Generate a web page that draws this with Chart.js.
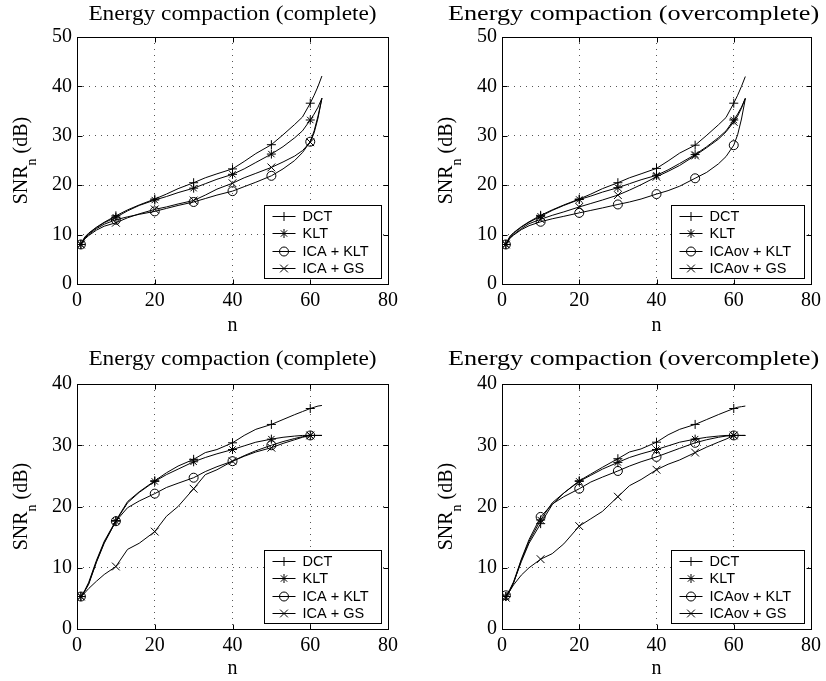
<!DOCTYPE html>
<html>
<head>
<meta charset="utf-8">
<script src="https://cdn.jsdelivr.net/npm/chart.js@4.4.1/dist/chart.umd.min.js"></script>
<style>
	html, body { margin: 0; padding: 0; background: #fff; }
	#wrap { position: relative; width: 826px; height: 681px; overflow: hidden; }
	#wrap canvas { position: absolute; }
</style>
</head>
<body>
<div id="wrap">
	<canvas id="tl" width="413" height="340" style="left:0;top:0;width:413px;height:340px"></canvas>
	<canvas id="tr" width="413" height="340" style="left:413px;top:0;width:413px;height:340px"></canvas>
	<canvas id="bl" width="413" height="340" style="left:0;top:341px;width:413px;height:340px"></canvas>
	<canvas id="br" width="413" height="340" style="left:413px;top:341px;width:413px;height:340px"></canvas>
</div>
<script>
var nValues = [ 1, 2, 3, 5, 7, 10, 13, 16, 20, 23, 26, 30, 33, 36, 40, 43, 46, 50, 53, 56, 58, 60, 61, 62, 63 ];
// n positions that carry a marker.
var markerN = [ 1, 10, 20, 30, 40, 50, 60 ];

var namesComplete = [ 'DCT', 'KLT', 'ICA + KLT', 'ICA + GS' ];
var namesOver     = [ 'DCT', 'KLT', 'ICAov + KLT', 'ICAov + GS' ];
var xTicks        = [ 0, 20, 40, 60, 80 ];
var yTicksTop     = [ 0, 10, 20, 30, 40, 50 ];
var yTicksBottom  = [ 0, 10, 20, 30, 40 ];

// Top left: complete.
var tlDct    = [ 8.0, 9.5, 10.3, 11.5, 12.5, 13.8, 15.0, 16.0, 17.2, 18.2, 19.3, 20.5, 21.5, 22.3, 23.3, 24.8, 26.4, 28.2, 30.2, 32.3, 33.8, 36.6, 38.2, 40.0, 42.1 ];
var tlKlt    = [ 8.0, 9.4, 10.2, 11.4, 12.4, 13.5, 14.8, 15.9, 17.0, 17.7, 18.5, 19.4, 20.3, 21.2, 22.2, 23.3, 24.6, 26.3, 27.8, 29.6, 31.0, 33.2, 34.4, 35.8, 37.6 ];
var tlIcaKlt = [ 8.0, 9.3, 10.0, 11.2, 12.1, 13.0, 13.6, 14.1, 14.7, 15.3, 15.9, 16.6, 17.3, 18.0, 18.8, 19.7, 20.6, 21.9, 23.3, 25.0, 26.6, 28.8, 31.0, 34.0, 37.6 ];
var tlIcaGs  = [ 8.0, 9.1, 9.8, 10.9, 11.7, 12.4, 13.4, 14.2, 15.1, 15.6, 16.2, 16.9, 18.0, 19.2, 20.4, 21.5, 22.4, 23.6, 24.7, 25.9, 27.0, 28.7, 30.6, 33.6, 37.6 ];

// Top right: overcomplete.
var trDct    = [ 8.0, 9.6, 10.4, 11.6, 12.6, 13.9, 15.0, 16.0, 17.2, 18.2, 19.3, 20.5, 21.5, 22.3, 23.4, 24.9, 26.5, 28.1, 30.1, 32.2, 33.7, 36.6, 38.2, 40.0, 42.0 ];
var trKlt    = [ 8.0, 9.5, 10.3, 11.5, 12.5, 13.7, 14.9, 15.9, 17.1, 17.8, 18.6, 19.5, 20.3, 21.1, 22.0, 23.1, 24.4, 26.2, 27.8, 29.6, 31.0, 33.2, 34.4, 35.8, 37.6 ];
var trIcaKlt = [ 8.0, 9.2, 9.9, 11.0, 11.8, 12.6, 13.2, 13.7, 14.4, 14.9, 15.4, 16.1, 16.6, 17.2, 18.2, 18.9, 19.8, 21.4, 22.6, 24.3, 25.8, 28.1, 30.2, 33.4, 37.5 ];
var trIcaGs  = [ 8.0, 9.3, 10.0, 11.2, 12.2, 13.1, 13.9, 14.6, 15.6, 16.3, 17.0, 18.0, 19.0, 20.1, 21.7, 22.8, 24.0, 26.0, 27.6, 29.3, 30.8, 32.8, 34.0, 35.6, 37.6 ];

// Bottom left: complete.
var blDct    = [ 5.3, 6.3, 7.6, 11.2, 14.3, 17.7, 20.8, 22.4, 24.2, 25.5, 26.6, 27.7, 28.8, 29.3, 30.4, 31.6, 32.6, 33.4, 34.2, 35.0, 35.5, 36.0, 36.2, 36.4, 36.5 ];
var blKlt    = [ 5.3, 6.2, 7.4, 11.0, 14.1, 17.6, 20.6, 22.3, 24.1, 25.2, 26.1, 27.3, 28.0, 28.6, 29.3, 29.9, 30.5, 31.0, 31.3, 31.5, 31.6, 31.6, 31.6, 31.6, 31.6 ];
var blIcaKlt = [ 5.3, 6.2, 7.3, 10.9, 14.0, 17.6, 19.8, 20.9, 22.1, 23.1, 23.8, 24.7, 25.7, 26.5, 27.4, 28.3, 29.1, 30.0, 30.6, 31.1, 31.4, 31.6, 31.6, 31.6, 31.6 ];
var blIcaGs  = [ 5.3, 5.9, 6.6, 7.8, 8.9, 10.2, 13.0, 14.0, 15.9, 18.4, 20.0, 22.9, 25.2, 26.0, 27.4, 28.2, 28.9, 29.6, 30.3, 30.9, 31.3, 31.6, 31.6, 31.6, 31.6 ];

// Bottom right: overcomplete.
var brDct    = [ 5.3, 6.3, 7.6, 11.0, 14.0, 17.2, 20.3, 22.2, 24.2, 25.3, 26.4, 27.8, 28.9, 29.4, 30.5, 31.7, 32.6, 33.4, 34.2, 35.0, 35.5, 36.0, 36.2, 36.3, 36.4 ];
var brKlt    = [ 5.3, 6.2, 7.5, 11.2, 14.3, 17.8, 20.6, 22.2, 24.1, 25.1, 26.1, 27.2, 28.0, 28.6, 29.3, 29.9, 30.5, 31.0, 31.3, 31.5, 31.6, 31.6, 31.6, 31.6, 31.6 ];
var brIcaKlt = [ 5.5, 6.4, 7.7, 11.4, 14.6, 18.3, 20.4, 21.6, 22.9, 24.0, 24.8, 25.8, 26.6, 27.3, 28.1, 28.8, 29.5, 30.4, 30.9, 31.3, 31.5, 31.6, 31.6, 31.6, 31.6 ];
var brIcaGs  = [ 5.1, 6.2, 7.2, 8.8, 10.0, 11.4, 12.3, 13.9, 16.8, 18.0, 19.2, 21.6, 23.4, 24.4, 26.0, 26.9, 27.6, 28.8, 29.7, 30.5, 31.0, 31.6, 31.6, 31.6, 31.6 ];

var SERIF = '"Liberation Serif", "Times New Roman", Times, serif';
var SANS  = '"Liberation Sans", Arial, Helvetica, sans-serif';
var markerStyles = [ 'cross', 'star', 'circle', 'crossRot' ];
var markerRadius = [ 4.5, 4.5, 4.5, 5.5 ];

// Title, y label, legend, inward ticks and the box around the axes.
var panelDecor = {
	id: 'panelDecor',
	afterDraw: function ( chart, args, opts ) {
		var ctx = chart.ctx;
		var a   = chart.chartArea;
		var cx  = ( a.left + a.right ) / 2;

		ctx.save();
		ctx.fillStyle = '#000';

		// title (slightly widened, like the reference lettering)
		ctx.save();
		ctx.font = '21px ' + SERIF;
		ctx.textAlign = 'center';
		ctx.textBaseline = 'middle';
		ctx.translate( cx + opts.titleShift, opts.titleY );
		ctx.scale( opts.titleWiden, 1 );
		ctx.fillText( opts.title, 0, 0 );
		ctx.restore();

		// y label with subscript
		var cy = ( a.top + a.bottom ) / 2;
		ctx.save();
		ctx.translate( a.left - 50, cy );
		ctx.rotate( -Math.PI / 2 );
		ctx.textAlign = 'left';
		ctx.textBaseline = 'alphabetic';
		ctx.font = '20px ' + SERIF;
		var w1 = ctx.measureText( 'SNR' ).width;
		var w3 = ctx.measureText( ' (dB)' ).width;
		ctx.font = '14px ' + SERIF;
		var w2 = ctx.measureText( 'n' ).width;
		var x0 = -( w1 + w2 + w3 ) / 2;
		ctx.font = '20px ' + SERIF;
		ctx.fillText( 'SNR', x0, 0 );
		ctx.font = '14px ' + SERIF;
		ctx.fillText( 'n', x0 + w1, 9 );
		ctx.font = '20px ' + SERIF;
		ctx.fillText( ' (dB)', x0 + w1 + w2, 0 );
		ctx.restore();

		// legend box
		ctx.font = '14.5px ' + SANS;
		var maxW = 0;
		chart.data.datasets.forEach( function ( ds ) {
			maxW = Math.max( maxW, ctx.measureText( ds.label ).width );
		} );
		var bw = Math.round( 38 + maxW + 13 );
		var bh = 73;
		var bx = Math.round( a.right - 7 - bw ) + 0.5;
		var by = Math.round( a.bottom - 6 - bh ) + 0.5;
		ctx.fillStyle = '#fff';
		ctx.fillRect( bx, by, bw, bh );
		ctx.strokeStyle = '#000';
		ctx.lineWidth = 1;
		ctx.strokeRect( bx, by, bw, bh );
		chart.data.datasets.forEach( function ( ds, i ) {
			var ry = Math.round( by + 10 + i * 17.5 ) + 0.5;
			ctx.strokeStyle = '#000';
			ctx.lineWidth = 1;
			ctx.beginPath();
			ctx.moveTo( bx + 8, ry );
			ctx.lineTo( bx + 31, ry );
			ctx.stroke();
			ctx.fillStyle = 'rgba(0,0,0,0)';
			Chart.helpers.drawPoint( ctx, {
				pointStyle: ds.pointStyle,
				radius: ds.pointRadiusBase,
				borderWidth: 1,
				rotation: 0
			}, bx + 19.5, ry );
			ctx.fillStyle = '#000';
			ctx.textAlign = 'left';
			ctx.textBaseline = 'middle';
			ctx.fillText( ds.label, bx + 38, ry + 0.5 );
		} );

		// frame and inward tick marks on all four sides
		var L = Math.round( a.left ) + 0.5;
		var R = Math.round( a.right ) + 0.5;
		var T = Math.round( a.top ) + 0.5;
		var B = Math.round( a.bottom ) + 0.5;
		ctx.strokeStyle = '#000';
		ctx.lineWidth = 1;
		ctx.strokeRect( L, T, R - L, B - T );
		ctx.beginPath();
		opts.xTicks.forEach( function ( v ) {
			var px = Math.round( chart.scales.x.getPixelForValue( v ) ) + 0.5;
			ctx.moveTo( px, B ); ctx.lineTo( px, B - 5 );
			ctx.moveTo( px, T ); ctx.lineTo( px, T + 5 );
		} );
		opts.yTicks.forEach( function ( v ) {
			var py = Math.round( chart.scales.y.getPixelForValue( v ) ) + 0.5;
			ctx.moveTo( L, py ); ctx.lineTo( L + 5, py );
			ctx.moveTo( R, py ); ctx.lineTo( R - 5, py );
		} );
		ctx.stroke();
		ctx.restore();
	}
};

function buildPoints( values ) {
	var pts = [];
	for ( var i = 0; i < nValues.length; i++ ) {
		pts.push( { x: nValues[ i ], y: values[ i ] } );
	}
	return pts;
}

function makePanel( p ) {
	var canvas = document.getElementById( p.id );
	var datasets = p.series.map( function ( values, i ) {
		return {
			label: p.names[ i ],
			data: buildPoints( values ),
			borderColor: '#000',
			borderWidth: 1,
			backgroundColor: 'rgba(0,0,0,0)',
			pointStyle: markerStyles[ i ],
			pointRadiusBase: markerRadius[ i ],
			pointRadius: function ( c ) {
				return c.raw && markerN.indexOf( c.raw.x ) >= 0 ? markerRadius[ i ] : 0;
			},
			pointHoverRadius: 0,
			pointBorderColor: '#000',
			pointBackgroundColor: 'rgba(0,0,0,0)',
			pointBorderWidth: 1,
			tension: 0,
			fill: false
		};
	} );

	return new Chart( canvas, {
		type: 'line',
		data: { datasets: datasets },
		plugins: [ panelDecor ],
		options: {
			responsive: false,
			animation: false,
			events: [],
			layout: {
				padding: { left: 0, right: canvas.width - p.area.right, top: p.area.top, bottom: 0 }
			},
			plugins: {
				legend: { display: false },
				tooltip: { enabled: false },
				title: { display: false },
				panelDecor: {
					title: p.title,
					titleY: p.titleY,
					titleWiden: p.titleWiden,
					titleShift: p.titleShift,
					xTicks: xTicks,
					yTicks: p.yTicks
				}
			},
			scales: {
				x: {
					type: 'linear',
					min: 0,
					max: 80,
					afterBuildTicks: function ( scale ) {
						scale.ticks = xTicks.map( function ( v ) { return { value: v }; } );
					},
					afterFit: function ( scale ) {
						scale.height = canvas.height - p.area.bottom;
					},
					ticks: {
						color: '#000',
						font: { family: SERIF, size: 20 },
						padding: 5,
						maxRotation: 0,
						autoSkip: false
					},
					grid: { color: '#555', lineWidth: 1, drawTicks: false },
					border: { display: false, dash: [ 1, 5 ] },
					title: {
						display: true,
						text: 'n',
						color: '#000',
						font: { family: SERIF, size: 20 },
						padding: { top: 0, bottom: p.nPad }
					}
				},
				y: {
					type: 'linear',
					min: 0,
					max: p.yMax,
					afterBuildTicks: function ( scale ) {
						scale.ticks = p.yTicks.map( function ( v ) { return { value: v }; } );
					},
					afterFit: function ( scale ) {
						scale.width = p.area.left;
					},
					ticks: {
						color: '#000',
						font: { family: SERIF, size: 20 },
						padding: 5,
						autoSkip: false
					},
					grid: { color: '#555', lineWidth: 1, drawTicks: false },
					border: { display: false, dash: [ 1, 5 ] }
				}
			}
		}
	} );
}

var panels = [
	{ id: 'tl', title: 'Energy compaction (complete)', names: namesComplete, yMax: 50, yTicks: yTicksTop,
		series: [ tlDct, tlKlt, tlIcaKlt, tlIcaGs ], area: { left: 77, top: 37, right: 388, bottom: 284 },
		titleY: 14, titleWiden: 1.11, titleShift: 0, nPad: 2 },
	{ id: 'tr', title: 'Energy compaction (overcomplete)', names: namesOver, yMax: 50, yTicks: yTicksTop,
		series: [ trDct, trKlt, trIcaKlt, trIcaGs ], area: { left: 89, top: 37, right: 400, bottom: 284 },
		titleY: 14, titleWiden: 1.25, titleShift: -23, nPad: 2 },
	{ id: 'bl', title: 'Energy compaction (complete)', names: namesComplete, yMax: 40, yTicks: yTicksBottom,
		series: [ blDct, blKlt, blIcaKlt, blIcaGs ], area: { left: 77, top: 43, right: 388, bottom: 288 },
		titleY: 18, titleWiden: 1.11, titleShift: 0, nPad: 0 },
	{ id: 'br', title: 'Energy compaction (overcomplete)', names: namesOver, yMax: 40, yTicks: yTicksBottom,
		series: [ brDct, brKlt, brIcaKlt, brIcaGs ], area: { left: 89, top: 43, right: 400, bottom: 288 },
		titleY: 18, titleWiden: 1.25, titleShift: -23, nPad: 0 }
];

panels.forEach( makePanel );
</script>
</body>
</html>
